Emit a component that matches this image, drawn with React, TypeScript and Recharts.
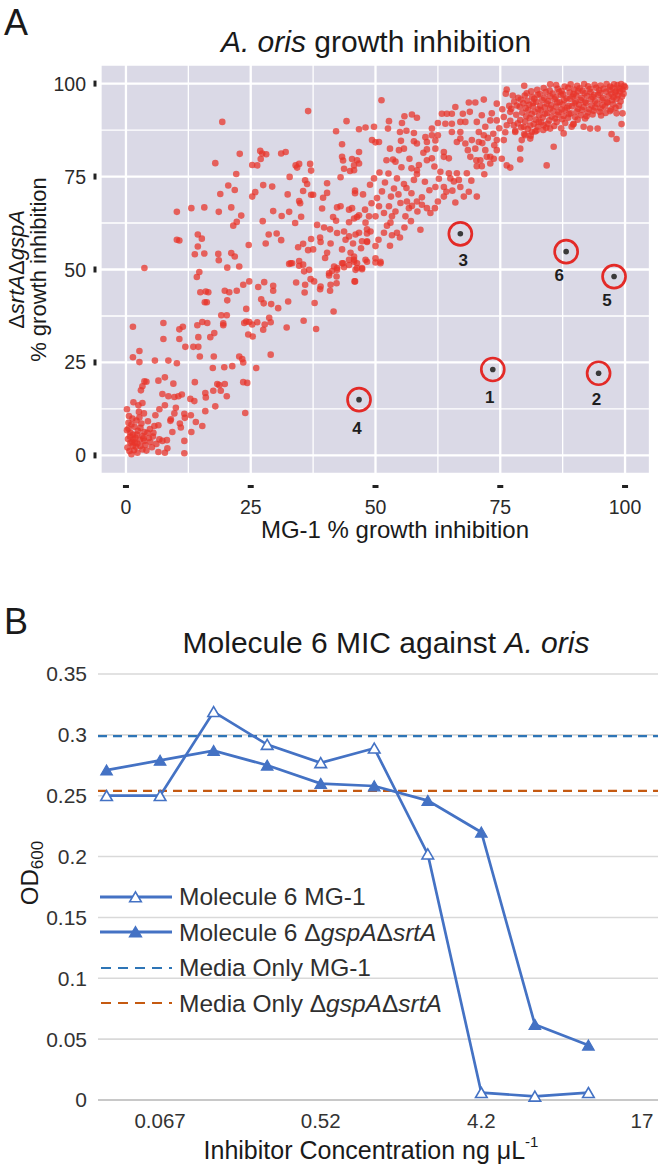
import React from 'react';
import {
  ScatterChart, Scatter, XAxis, YAxis, CartesianGrid, ReferenceLine,
  LineChart, Line, Legend,
} from 'recharts';

const FONT = '"Liberation Sans", Arial, Helvetica, sans-serif';

// ---------- Panel A data ----------
const gridTicksA = [0, 12.5, 25, 37.5, 50, 62.5, 75, 87.5, 100];
const majorTicksA = [0, 25, 50, 75, 100];

// [MG-1 % inhibition, ΔsrtAΔgspA % inhibition]
const cloudPoints: [number, number][] = [
  // low-left cluster
  [3.7,19.9],[4.1,19.8],[3.3,18.6],[3.0,17.5],[1.5,14.3],[2.5,13.5],[3.3,14.1],[6.5,20.1],[7.8,21.0],[9.5,19.3],
  [7.3,16.5],[8.5,15.9],[9.7,15.7],[10.5,15.9],[7.8,13.5],[6.7,12.4],[10.0,12.8],[11.2,16.4],[12.9,15.2],[13.7,14.6],
  [13.8,19.7],[15.9,16.8],[16.0,15.6],[15.9,11.9],[17.9,13.2],[18.3,19.2],[18.7,18.9],[17.5,17.4],[19.0,17.4],[19.8,19.2],
  [20.2,15.9],[23.5,19.7],[24.3,19.5],[23.9,11.4],[11.7,11.2],[11.8,10.1],[9.7,11.3],[9.0,9.7],[8.9,9.3],[10.8,8.6],
  [11.0,7.5],[13.0,10.8],[14.0,9.0],[15.3,7.9],[13.1,6.3],[9.3,6.3],[11.7,3.9],[11.7,0.6],[6.5,8.1],[5.7,7.9],
  [5.5,6.1],[6.7,4.3],[8.2,4.1],[7.3,3.9],[8.3,1.9],[6.5,0.9],[7.8,0.7],[1.3,9.9],[0.5,8.8],[0.5,7.2],
  [0.9,6.1],[1.5,4.3],[1.2,3.6],[0.9,3.4],[1.8,3.4],[2.3,3.2],[2.9,7.4],[3.7,6.3],[3.3,5.2],[3.7,3.9],
  [2.9,2.5],[3.3,1.6],[2.3,0.7],[1.1,0.3],[4.3,6.1],[4.9,3.6],[0.8,5.1],[1.9,4.8],[2.4,6.6],[0.3,2.1],
  [1.6,1.4],[2.8,4.2],[3.9,2.8],[4.6,4.7],[5.2,2.2],[1.1,8.3],[2.1,9.4],[0.6,10.6],[1.4,5.6],[2.0,2.3],
  [0.4,4.4],[3.1,8.6],[4.4,9.2],[5.9,10.8],[2.6,11.7],[0.2,12.4],[0.7,1.2],[1.4,2.6],[2.2,5.6],[3.5,4.6],
  [4.1,1.3],[0.2,6.8],[1.7,7.7],[2.7,10.2],[3.6,11.3],[4.8,7.1],[5.4,5.1],[6.1,3.1],
  // lower middle
  [14.7,49.3],[14.2,48.0],[14.9,43.9],[16.0,44.1],[16.5,43.9],[15.8,41.2],[16.2,41.2],[19.8,44.3],[20.7,43.9],[22.2,44.3],
  [23.5,45.9],[24.7,46.8],[20.3,41.7],[19.1,37.7],[20.2,37.7],[24.1,39.4],[26.5,45.3],[27.7,46.6],[29.5,45.6],[29.5,44.3],
  [27.1,42.0],[27.6,40.9],[29.1,40.7],[30.5,39.6],[32.5,41.4],[28.7,37.0],[29.0,35.8],[27.8,35.2],[27.5,33.8],[26.3,35.8],
  [24.7,35.9],[24.1,36.0],[25.3,35.2],[24.5,32.5],[25.4,32.0],[23.7,35.6],[19.5,35.5],[19.5,35.0],[17.7,32.9],[16.9,31.8],
  [16.3,35.6],[15.3,35.9],[14.3,35.0],[14.5,31.8],[10.7,33.9],[11.4,34.6],[7.5,35.6],[7.5,31.3],[10.7,31.3],[11.9,29.2],
  [13.5,29.2],[14.5,29.2],[14.8,26.6],[17.6,26.6],[1.4,34.6],[2.7,28.1],[1.4,26.4],[2.7,25.1],[5.8,25.5],[8.5,25.5],
  [10.2,24.8],[17.4,23.5],[19.7,23.7],[21.3,24.0],[22.7,26.6],[23.3,25.9],[23.5,25.0],[26.1,23.5],[29.0,27.1],[32.2,34.4],
  [35.6,36.2],[38.1,34.0],[41.6,38.7],[37.8,41.0],[35.8,43.8],[34.1,46.5],[35.9,45.9],[37.0,47.4],[38.9,44.7],[40.9,44.3],
  [40.7,48.4],[42.2,48.1],[42.2,46.3],[45.9,46.8],[43.5,51.7],[46.0,49.9],[3.7,50.4],[33.0,51.7],[34.7,51.0],[35.7,49.5],
  [37.7,46.8],[39.0,45.4],[41.0,45.9],[42.3,49.9],[43.7,50.6],[44.7,51.2],[41.7,50.8],
  // upper left / middle
  [36.5,92.6],[19.3,89.7],[44.2,89.9],[42.1,87.2],[46.7,87.7],[48.0,88.2],[43.3,83.7],[22.8,81.1],[26.9,81.9],[27.3,81.2],
  [28.1,81.0],[27.0,79.7],[31.1,81.2],[32.0,81.6],[17.9,78.6],[25.3,78.1],[26.3,78.0],[22.1,75.7],[34.0,78.0],[34.7,78.4],
  [34.3,77.4],[36.9,78.4],[37.1,76.6],[32.8,74.9],[35.9,74.0],[36.3,73.0],[43.3,80.3],[45.3,79.7],[43.5,79.3],[45.7,78.0],
  [46.7,81.6],[43.7,77.1],[44.9,76.5],[43.0,74.8],[20.5,72.6],[21.8,71.4],[18.9,70.3],[27.5,72.7],[29.3,72.3],[25.9,70.8],
  [25.3,69.6],[32.4,70.2],[35.5,71.1],[37.1,70.1],[37.5,70.1],[34.7,68.4],[34.9,67.8],[40.3,73.2],[40.3,70.6],[39.5,69.3],
  [45.9,71.2],[45.9,70.5],[10.2,65.5],[13.1,66.5],[15.7,66.7],[18.6,65.5],[21.1,66.7],[23.1,64.5],[22.2,62.8],[21.5,61.8],
  [29.5,65.7],[31.2,64.4],[32.7,65.5],[35.1,64.2],[27.4,63.0],[33.9,62.5],[39.3,66.4],[42.3,66.7],[43.0,67.0],[44.7,66.1],
  [46.3,64.1],[41.5,64.1],[42.1,63.1],[44.7,62.7],[38.3,62.0],[39.7,61.3],[40.9,60.8],[10.2,58.0],[10.7,57.8],[14.4,59.4],
  [15.2,58.3],[14.4,56.2],[13.8,54.1],[15.7,54.3],[18.5,54.2],[18.6,52.5],[20.3,50.5],[21.1,54.4],[21.8,53.5],[22.7,50.8],
  [24.6,56.6],[28.6,59.4],[30.2,59.7],[31.1,57.9],[28.0,57.0],[35.5,56.9],[37.1,58.2],[34.5,56.0],[36.5,55.2],[37.5,55.4],
  [38.9,58.6],[39.0,57.4],[40.3,54.5],[39.9,53.1],[41.0,57.0],[42.3,59.8],[43.7,60.2],[44.7,58.9],[46.0,59.4],[44.0,58.0],
  [45.5,57.0],[43.3,55.4],[45.0,54.5],[45.7,53.5],[44.7,52.6],[43.3,51.7],[42.3,50.4],[46.3,51.7],[47.1,55.7],[48.3,57.4],
  [48.3,59.7],[32.7,51.5],[33.3,51.7],[34.7,52.3],[35.5,51.3],[36.7,49.9],[41.3,49.6],[40.7,49.0],
  // upper right spread
  [51.2,95.5],[79.8,99.4],[85.0,99.8],[76.3,98.4],[76.1,97.3],[74.3,94.6],[71.7,95.7],[70.0,94.9],[68.7,94.9],[68.9,92.4],
  [66.0,93.7],[64.3,91.9],[65.3,91.9],[64.0,89.2],[62.5,89.4],[61.3,87.9],[57.3,91.7],[58.3,90.8],[55.8,91.2],[55.3,89.4],
  [52.7,89.9],[52.5,87.9],[49.7,88.4],[56.2,87.3],[54.9,87.0],[57.7,86.7],[57.7,84.5],[58.3,83.9],[55.1,84.6],[55.7,82.5],
  [54.7,82.1],[52.9,82.5],[50.7,84.3],[49.3,84.8],[50.0,84.2],[60.3,84.3],[60.3,82.3],[62.0,82.5],[62.5,86.1],[62.0,84.7],
  [63.7,81.6],[63.7,80.3],[64.7,79.9],[65.3,87.0],[67.0,87.0],[67.0,85.2],[66.3,84.3],[68.0,83.9],[68.5,82.1],[69.3,84.8],
  [70.0,82.5],[70.7,84.3],[69.0,80.3],[70.2,79.4],[70.3,77.8],[71.3,77.8],[71.0,79.4],[72.0,82.1],[72.3,80.3],[73.0,80.3],
  [73.0,78.5],[73.7,79.8],[74.3,82.1],[73.8,83.4],[74.3,84.8],[75.7,84.8],[75.3,79.8],[76.3,78.0],[77.0,77.4],[79.0,79.6],
  [79.0,82.5],[79.3,84.8],[80.0,86.1],[81.0,85.2],[81.3,87.0],[84.3,78.0],[85.7,83.0],[87.7,86.6],[98.3,85.1],[97.3,86.4],
  [99.3,89.1],[98.3,92.0],[99.5,92.0],[94.5,87.9],[93.0,87.9],[91.7,88.4],[89.3,88.4],[89.7,89.2],[85.0,87.9],[83.7,88.8],
  [82.3,87.4],[82.7,89.7],[79.7,88.4],[78.0,87.0],[77.7,88.8],[76.3,88.8],[75.7,91.0],[77.0,92.4],[74.3,90.1],[73.0,90.1],
  [72.0,88.4],[71.7,86.1],[70.7,87.0],[70.3,89.7],[71.3,91.5],[73.3,92.0],[68.0,89.7],[67.0,89.7],[67.5,91.9],[65.3,89.2],
  [63.3,91.9],[61.3,86.1],[60.0,85.6],[77.5,96.8],[76.8,94.0],[75.4,93.1],[78.2,91.6],[77.0,90.0],[76.0,86.9],[74.8,88.0],
  [73.6,86.5],[72.5,85.4],[71.4,84.0],
  // middle band
  [49.7,74.5],[46.3,79.4],[46.7,78.5],[45.7,76.7],[52.2,79.4],[53.5,79.6],[54.0,79.0],[57.2,77.2],[58.7,78.1],[58.3,76.7],
  [57.7,74.1],[58.3,75.6],[60.3,79.4],[61.3,79.9],[54.3,74.5],[55.7,73.0],[53.7,71.8],[53.1,69.6],[50.3,69.2],[50.7,67.0],
  [51.7,65.2],[52.7,67.0],[53.3,64.3],[54.0,65.6],[55.0,67.9],[56.3,68.3],[57.2,70.5],[56.7,66.5],[56.0,64.3],[57.3,67.1],
  [58.3,68.3],[59.3,69.4],[59.3,67.4],[60.3,66.5],[61.0,65.2],[61.9,66.5],[62.0,72.2],[63.0,76.3],[63.7,72.2],[64.7,75.9],
  [65.0,74.5],[65.7,73.7],[66.3,75.9],[66.7,74.1],[67.0,72.2],[68.3,75.9],[68.7,70.9],[67.7,69.6],[70.3,69.6],[66.0,68.0],
  [63.7,69.6],[59.0,60.7],[50.0,64.3],[48.7,64.3],[48.0,62.6],[48.3,60.8],[46.7,59.9],[47.3,57.6],[48.3,57.6],[50.0,56.3],
  [51.7,59.9],[52.3,61.8],[53.0,62.6],[54.3,59.9],[53.3,59.2],[54.9,58.6],[51.0,52.1],[50.0,53.0],[48.0,52.6],[47.3,50.4],
  [45.7,52.6],[45.3,66.5],[45.7,63.7],[46.7,64.6],[45.7,52.1],[46.3,50.4],[47.3,50.1],[45.8,46.8],[48.3,52.1],[50.0,51.9],
  [51.0,51.7],[47.5,70.2],[48.9,72.8],[50.8,76.1],[51.9,73.4],[49.2,67.8],[47.9,66.1],[52.6,75.8],[55.2,77.5],[56.8,79.8],
  [59.6,81.4],[61.8,77.7],[62.7,74.4],[64.2,70.9],[60.8,71.3],[59.9,73.6],[56.2,71.9],[54.6,70.2],[51.3,71.0],[49.0,60.2],
  [50.6,58.0],[52.9,56.4],[55.8,61.3],[57.1,63.0],[58.4,65.6],[62.5,68.3],[65.4,71.2],[69.2,73.9],[71.8,75.6],
  // dense top-right cluster
  [86.2,99.6],[87.9,99.2],[89.1,99.8],[90.4,99.4],[91.8,99.9],[92.6,99.3],[93.9,99.7],[95.1,99.5],[96.3,99.9],[97.0,99.2],
  [97.8,99.8],[98.5,99.6],[99.2,99.9],[99.8,99.4],
  [82.4,98.3],[83.7,98.8],[84.9,98.1],[86.5,98.6],[87.3,98.0],[88.6,98.9],[89.8,98.4],[90.9,98.7],[91.5,98.1],[92.9,98.5],
  [94.2,98.9],[94.8,98.2],[95.7,98.6],[96.9,98.3],[97.5,98.9],[98.2,98.0],[98.8,98.7],[99.5,98.4],[100.0,99.0],
  [80.3,97.4],[81.2,97.9],[82.9,97.2],[84.1,97.7],[85.5,97.3],[86.8,97.8],[87.6,97.1],[88.9,97.6],[89.7,97.2],[90.6,97.9],
  [91.9,97.4],[93.1,97.7],[93.8,97.0],[95.0,97.5],[96.2,97.8],[97.3,97.2],[98.0,97.6],[99.0,97.9],[99.7,97.3],
  [78.6,96.2],[79.9,96.8],[81.4,96.4],[82.5,96.9],[83.8,96.1],[85.0,96.6],[86.1,96.3],[87.2,96.9],[88.3,96.0],[89.5,96.5],
  [90.2,96.8],[91.3,96.2],[92.4,96.7],[93.5,96.4],[94.6,96.9],[95.6,96.1],[96.7,96.6],[97.7,96.3],[98.6,96.8],[99.4,96.5],
  [77.8,95.2],[79.1,95.7],[80.4,95.4],[81.8,95.9],[82.2,95.1],[83.4,95.6],[84.6,95.3],[85.9,95.8],[86.9,95.0],[87.8,95.5],
  [89.0,95.9],[90.1,95.2],[91.1,95.6],[92.0,95.1],[93.2,95.8],[94.0,95.3],[95.3,95.7],[96.4,95.0],[97.4,95.5],[98.3,95.9],
  [99.1,95.2],
  [78.3,94.1],[79.6,94.7],[80.8,94.3],[81.6,94.8],[83.0,94.0],[84.3,94.6],[85.2,94.2],[86.4,94.9],[87.5,94.4],[88.7,94.0],
  [89.9,94.7],[90.8,94.3],[92.2,94.8],[93.3,94.1],[94.4,94.6],[95.5,94.2],[96.5,94.9],[97.6,94.4],[98.8,94.0],
  [77.2,93.2],[78.9,93.8],[80.1,93.4],[81.5,93.9],[82.6,93.1],[83.9,93.6],[85.0,93.3],[86.2,93.8],[87.3,93.0],[88.4,93.5],
  [89.4,93.9],[90.6,93.2],[91.7,93.7],[92.8,93.1],[94.0,93.6],[95.1,93.3],[96.0,93.8],[97.2,93.0],[98.1,93.5],
  [79.4,92.2],[80.6,92.8],[81.9,92.4],[83.1,92.9],[84.4,92.1],[85.6,92.6],[86.7,92.3],[87.9,92.8],[89.1,92.0],[90.3,92.5],
  [91.4,92.9],[92.5,92.2],[93.7,92.7],[94.9,92.4],[96.1,92.1],[97.0,92.6],
  [80.2,91.2],[81.3,91.8],[82.8,91.4],[84.0,91.9],[85.3,91.1],[86.5,91.6],[87.7,91.3],[88.8,91.8],[90.0,91.0],[91.2,91.5],
  [92.3,91.2],[93.5,91.7],[95.2,91.4],
  [79.0,90.2],[80.9,90.7],[82.1,90.3],[83.5,90.9],[84.8,90.1],[86.0,90.6],[87.4,90.4],[88.6,90.8],[90.5,90.3],[92.0,90.6],
  [78.5,89.3],[80.0,89.8],[81.7,89.1],[83.2,89.6],[84.5,89.2],[86.3,89.7],[88.0,89.4],[89.6,89.0],
  [79.2,88.2],[81.0,88.7],[82.5,88.4],[84.2,88.1],[85.8,88.6],[87.2,88.0],
  [78.0,87.3],[80.5,87.8],[82.0,87.1],[83.6,87.5],[79.8,86.4],[81.1,86.0],
];

const highlightIds = ['1', '2', '3', '4', '5', '6'];
const highlightMG1 = [73.5, 94.7, 67.0, 46.7, 97.8, 88.2];
const highlightDelta = [23.1, 22.1, 59.6, 15.0, 48.1, 54.8];

// label placement (pixels, relative to point) — style only
const labelNudge: Record<string, [number, number]> = {
  '1': [-3, 27], '2': [-2, 26], '3': [3, 26], '4': [-2, 28], '5': [-7, 23], '6': [-7, 23],
};

const cloudData = cloudPoints.map(([x, y]) => ({ x, y }));
const highlightData = highlightIds.map((id, k) => ({ id, x: highlightMG1[k], y: highlightDelta[k] }));

// ---------- Panel B data ----------
const concTickIndex = [1, 4, 7, 10];
const concTickLabels = ['0.067', '0.52', '4.2', '17'];
const odTicks = [0, 0.05, 0.1, 0.15, 0.2, 0.25, 0.3, 0.35];
const mg1OD = [0.25, 0.25, 0.319, 0.292, 0.277, 0.289, 0.202, 0.006, 0.003, 0.006];
const deltaOD = [0.271, 0.279, 0.287, 0.275, 0.26, 0.258, 0.246, 0.22, 0.062, 0.045];
const mediaMG1 = 0.299;
const mediaDelta = 0.254;

const rowsB = mg1OD.map((v, i) => ({ i, mg1: v, delta: deltaOD[i] }));

const legendItems = [
  { label: 'Molecule 6 MG-1', kind: 'open' },
  { label: 'Molecule 6 ΔgspAΔsrtA', kind: 'filled' },
  { label: 'Media Only MG-1', kind: 'dashBlue' },
  { label: 'Media Only ΔgspAΔsrtA', kind: 'dashOrange' },
];

// ---------- helpers ----------
const BLUE = '#4472C4';
const italicize = (s: string) =>
  s.split(/(gspA|srtA)/).map((part, k) =>
    part === 'gspA' || part === 'srtA'
      ? <tspan key={k} fontStyle="italic">{part}</tspan>
      : <tspan key={k}>{part}</tspan>
  );
const italicizeHtml = (s: string) =>
  s.split(/(gspA|srtA)/).map((part, k) =>
    part === 'gspA' || part === 'srtA'
      ? <i key={k}>{part}</i>
      : <span key={k}>{part}</span>
  );

const triPath = (cx: number, cy: number) =>
  `M${cx},${cy - 5.2} L${cx + 5.8},${cy + 4.8} L${cx - 5.8},${cy + 4.8} Z`;

const gridLineA = (p: any) => (
  <line
    key={`${p.x1}-${p.y1}-${p.x2}-${p.y2}`}
    x1={p.x1} y1={p.y1} x2={p.x2} y2={p.y2}
    stroke="#FFFFFF"
    strokeWidth={typeof p.index === 'number' && p.index % 2 === 1 ? 1.3 : 2.3}
  />
);

const XTickA = (props: any) => {
  const { x, y, payload } = props;
  if (!majorTicksA.includes(payload.value)) return <g />;
  return (
    <g>
      <rect x={x - 3} y={y + 11} width={6} height={3} fill="#222" />
      <text x={x} y={y + 40} textAnchor="middle" fontSize={19.5} fill="#2a2a2a" fontFamily={FONT}>
        {payload.value}
      </text>
    </g>
  );
};

const YTickA = (props: any) => {
  const { x, y, payload } = props;
  if (!majorTicksA.includes(payload.value)) return <g />;
  return (
    <g>
      <rect x={x - 7.5} y={y - 3} width={3} height={6} fill="#222" />
      <text x={x - 15} y={y + 7} textAnchor="end" fontSize={19.5} fill="#2a2a2a" fontFamily={FONT}>
        {payload.value}
      </text>
    </g>
  );
};

const CloudDot = (p: any) => (
  <circle cx={p.cx} cy={p.cy} r={3.3} fill="#E8352A" fillOpacity={0.74} />
);

const HighlightDot = (p: any) => {
  const id = p.payload?.id ?? '';
  const [dx, dy] = labelNudge[id] ?? [0, 26];
  return (
    <g>
      <circle cx={p.cx} cy={p.cy} r={11.5} fill="none" stroke="#E32A27" strokeWidth={2.7} />
      <circle cx={p.cx} cy={p.cy} r={2.8} fill="#3A3A3A" />
      <text x={p.cx + dx} y={p.cy + dy + 6} textAnchor="middle" fontSize={17} fontWeight="bold"
        fill="#1e1e1e" fontFamily={FONT}>
        {id}
      </text>
    </g>
  );
};

const OpenTri = (p: any) => {
  if (p.cx == null || p.cy == null) return <g key={p.index} />;
  return <path key={p.index} d={triPath(p.cx, p.cy)} fill="#FFFFFF" stroke={BLUE} strokeWidth={1.6} />;
};
const FilledTri = (p: any) => {
  if (p.cx == null || p.cy == null) return <g key={p.index} />;
  return <path key={p.index} d={triPath(p.cx, p.cy)} fill={BLUE} stroke={BLUE} strokeWidth={1.2} />;
};

const LegendSample = ({ kind }: { kind: string }) => {
  if (kind === 'open' || kind === 'filled') {
    return (
      <svg width={79} height={20} style={{ display: 'block' }}>
        <line x1={0} y1={10} x2={72} y2={10} stroke={BLUE} strokeWidth={2.8} />
        <path d={triPath(35.5, 10)} fill={kind === 'open' ? '#FFFFFF' : BLUE} stroke={BLUE} strokeWidth={1.6} />
      </svg>
    );
  }
  return (
    <svg width={79} height={20} style={{ display: 'block' }}>
      <line x1={1} y1={10} x2={72} y2={10} stroke={kind === 'dashBlue' ? '#2E75B6' : '#C55A11'}
        strokeWidth={2.2} strokeDasharray="10 7" />
    </svg>
  );
};

const renderLegendB = () => (
  <div style={{ fontFamily: FONT, fontSize: 24.5, color: '#2f2f2f', lineHeight: '35.5px' }}>
    {legendItems.map((it, k) => (
      <div key={k} style={{ display: 'flex', alignItems: 'center', height: 35.5, whiteSpace: 'nowrap' }}>
        <LegendSample kind={it.kind} />
        <span>{italicizeHtml(it.label)}</span>
      </div>
    ))}
  </div>
);

export default function App() {
  return (
    <div style={{ position: 'absolute', left: 0, top: 0, width: 660, height: 1166, background: '#FFFFFF', overflow: 'hidden' }}>
      {/* Panel A */}
      <div style={{ position: 'absolute', left: 0, top: 0 }}>
        <ScatterChart width={660} height={600} margin={{ top: 65, right: 10, bottom: 66, left: 41 }}>
          <CartesianGrid fill="#DAD9E6" fillOpacity={1} stroke="#FFFFFF" horizontal={gridLineA} vertical={gridLineA} />
          <XAxis type="number" dataKey="x" domain={[-5, 105]} ticks={gridTicksA} interval={0}
            height={60} tickSize={0} tickMargin={0} axisLine={false} tickLine={false} tick={<XTickA />} />
          <YAxis type="number" dataKey="y" domain={[-5, 105]} ticks={gridTicksA} interval={0}
            width={60} tickSize={0} tickMargin={0} axisLine={false} tickLine={false} tick={<YTickA />} />
          <Scatter data={cloudData} shape={CloudDot} isAnimationActive={false} />
          <Scatter data={highlightData} shape={HighlightDot} isAnimationActive={false} />
        </ScatterChart>
      </div>

      {/* Panel B */}
      <div style={{ position: 'absolute', left: 0, top: 600 }}>
        <LineChart width={660} height={566} data={rowsB} margin={{ top: 74, right: 2, bottom: 26, left: 38 }}>
          <CartesianGrid vertical={false} stroke="#D9D9D9" strokeWidth={1.6} />
          <XAxis type="number" dataKey="i" domain={[-0.16, 10.3]} ticks={concTickIndex} interval={0}
            tickFormatter={(v: number) => concTickLabels[concTickIndex.indexOf(v)] ?? ''}
            height={40} tickSize={0} tickMargin={13} tickLine={false}
            axisLine={{ stroke: '#BFBFBF', strokeWidth: 1.6 }}
            tick={{ fontSize: 20.5, fill: '#333333', fontFamily: FONT }} allowDataOverflow />
          <YAxis type="number" domain={[0, 0.35]} ticks={odTicks} interval={0} width={60}
            tickSize={0} tickMargin={11} axisLine={false} tickLine={false}
            tick={{ fontSize: 21, fill: '#333333', fontFamily: FONT }} />
          <ReferenceLine y={mediaMG1} stroke="#2E75B6" strokeWidth={2.2} strokeDasharray="9 6" />
          <ReferenceLine y={mediaDelta} stroke="#C55A11" strokeWidth={2.2} strokeDasharray="9 6" />
          <Line dataKey="mg1" stroke={BLUE} strokeWidth={2.7} dot={OpenTri} activeDot={false} isAnimationActive={false} />
          <Line dataKey="delta" stroke={BLUE} strokeWidth={2.7} dot={FilledTri} activeDot={false} isAnimationActive={false} />
          <Legend layout="vertical" align="center" verticalAlign="middle" content={renderLegendB}
            wrapperStyle={{ left: 100, top: 279, width: 380 }} />
        </LineChart>
      </div>

      {/* Titles and axis titles */}
      <svg width={660} height={1166} style={{ position: 'absolute', left: 0, top: 0, pointerEvents: 'none' }}
        fontFamily={FONT}>
        <text x={4} y={35} fontSize={36} fill="#1a1a1a">A</text>
        <text x={376} y={52} fontSize={30} fill="#1a1a1a" textAnchor="middle">
          <tspan fontStyle="italic">A. oris</tspan><tspan> growth inhibition</tspan>
        </text>
        <text x={395} y={538} fontSize={24} fill="#1a1a1a" textAnchor="middle">MG-1 % growth inhibition</text>
        <text x={24} y={269.5} fontSize={22} fill="#1a1a1a" textAnchor="middle" transform="rotate(-90 24 269.5)">
          {italicize('ΔsrtAΔgspA')}
        </text>
        <text x={46} y={269.5} fontSize={22} fill="#1a1a1a" textAnchor="middle" transform="rotate(-90 46 269.5)">
          % growth inhibition
        </text>

        <text x={4} y={634} fontSize={36} fill="#1a1a1a">B</text>
        <text x={386} y={653} fontSize={30} fill="#1a1a1a" textAnchor="middle">
          <tspan>Molecule 6 MIC against </tspan><tspan fontStyle="italic">A. oris</tspan>
        </text>
        <text x={38} y={873} fontSize={24} fill="#1a1a1a" textAnchor="middle" transform="rotate(-90 38 873)">
          <tspan>OD</tspan><tspan fontSize={17} dy={5}>600</tspan>
        </text>
        <text x={371} y={1159} fontSize={25} fill="#1a1a1a" textAnchor="middle">
          <tspan>Inhibitor Concentration ng μL</tspan><tspan fontSize={15} dy={-12}>-1</tspan>
        </text>
      </svg>
    </div>
  );
}
